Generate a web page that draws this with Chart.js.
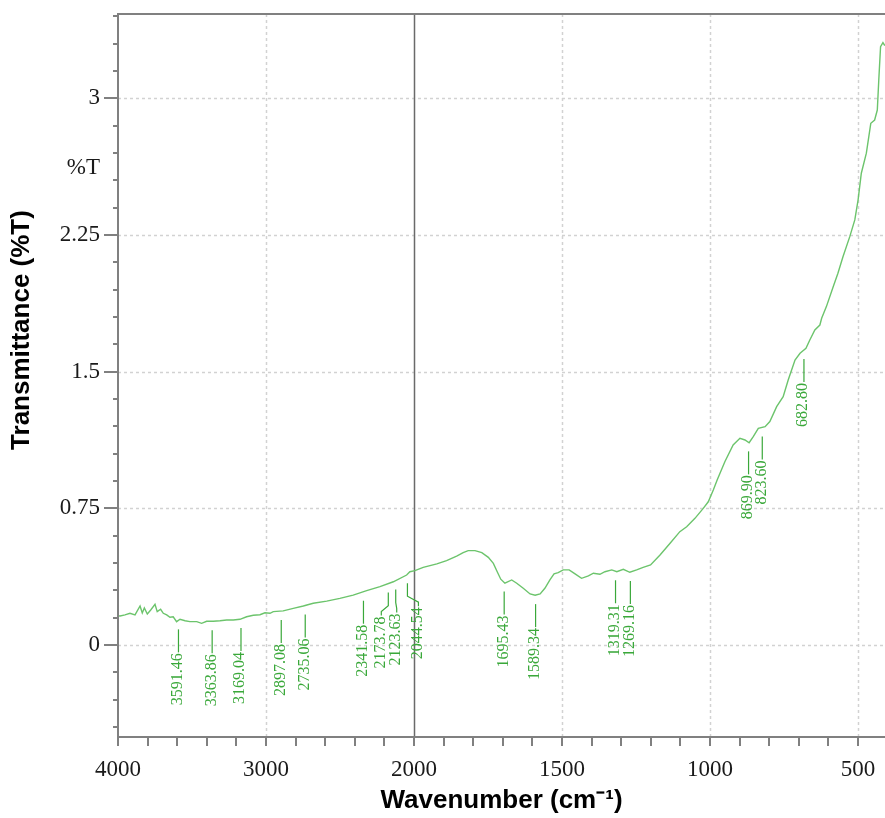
<!DOCTYPE html>
<html><head><meta charset="utf-8">
<script src="https://cdn.jsdelivr.net/npm/chart.js@4/dist/chart.umd.min.js"></script>
<style>html,body{margin:0;padding:0;background:#fff}</style>
</head><body>
<canvas id="c" width="885" height="818"></canvas>
<script>
// ---- data ----
const wavenumbers = [4000,3986,3953,3919,3885,3851,3836,3822,3802,3779,
3750,3735,3712,3694,3671,3649,3627,3604,3581,3547,
3514,3468,3435,3401,3356,3311,3266,3221,3176,3131,
3086,3041,3007,2973,2951,2884,2816,2748,2681,2590,
2501,2411,2320,2230,2140,2050,2028,1997,1969,1923,
1890,1856,1834,1817,1794,1771,1749,1732,1719,1707,
1693,1670,1653,1631,1608,1591,1574,1558,1541,1527,
1513,1496,1476,1456,1434,1411,1394,1372,1355,1332,
1315,1293,1271,1248,1226,1201,1169,1135,1102,1079,
1051,1023,1006,989,976,950,922,899,882,868,
854,837,814,798,775,753,736,713,696,676,
663,646,629,623,607,584,568,551,528,511,
500,489,472,457,444,435,430,424,416,411,409];
const transmittance = [0.160,0.159,0.165,0.174,0.165,0.214,0.176,0.203,0.170,0.192,
0.223,0.183,0.196,0.174,0.165,0.152,0.155,0.128,0.141,0.133,
0.128,0.128,0.119,0.130,0.130,0.133,0.137,0.137,0.141,0.155,
0.163,0.166,0.177,0.174,0.183,0.187,0.201,0.214,0.229,0.241,
0.256,0.274,0.298,0.320,0.347,0.384,0.402,0.408,0.426,0.445,
0.463,0.488,0.507,0.518,0.518,0.507,0.481,0.448,0.402,0.361,
0.339,0.357,0.339,0.311,0.280,0.273,0.280,0.311,0.357,0.390,
0.397,0.412,0.412,0.390,0.366,0.379,0.394,0.388,0.402,0.412,
0.402,0.415,0.399,0.412,0.426,0.439,0.494,0.558,0.622,0.649,
0.695,0.750,0.786,0.851,0.906,1.006,1.098,1.134,1.125,1.110,
1.143,1.189,1.198,1.226,1.308,1.363,1.454,1.564,1.601,1.628,
1.674,1.729,1.756,1.793,1.857,1.966,2.040,2.131,2.241,2.333,
2.442,2.589,2.699,2.863,2.881,2.936,3.101,3.284,3.306,3.293,3.29];
const peakWavenumbers = [3591.46,3363.86,3169.04,2897.08,2735.06,2341.58,2173.78,2123.63,2044.54,1695.43,1589.34,1319.31,1269.16,869.90,823.60,682.80];
const peakLabels = ['3591.46','3363.86','3169.04','2897.08','2735.06','2341.58','2173.78','2123.63','2044.54','1695.43','1589.34','1319.31','1269.16','869.90','823.60','682.80'];
const xTickLabels = [4000,3000,2000,1500,1000,500];
const yTickLabels = [0,0.75,1.5,2.25,3];
const xStart = 4000, xBreak = 2000, xEnd = 409;
const yMin = -0.505, yMax = 3.463, yMinorStep = 0.15, xMinorStepU = 200;

// layout-only: horizontal offset of a few crowded peak labels
const peakLabelShift = [0,0,0,0,0,0,-7,1,11,0,0,0,0,0,0,0];

// the spectrum x-axis doubles its scale below 2000 cm-1
function toU(w){ return w >= xBreak ? (xStart - w) : (xStart - xBreak) + 2*(xBreak - w); }
function fromU(u){ return u <= (xStart - xBreak) ? xStart - u : xBreak - (u - (xStart - xBreak))/2; }

const LINE = '#6cc46c', LABEL = '#3aa83a', AXIS = '#808080', GRID = '#d2d2d2';

function curveValueAt(wn){
  for (let i=0;i<wavenumbers.length-1;i++){
    const a=wavenumbers[i], b=wavenumbers[i+1];
    if (wn<=a && wn>=b){ const t=(a-wn)/(a-b); return transmittance[i]+t*(transmittance[i+1]-transmittance[i]); }
  }
  return transmittance[transmittance.length-1];
}

const decor = {
  id:'decor',
  beforeDatasetsDraw(chart){
    const {ctx, chartArea:ca, scales:{x,y}} = chart;
    ctx.save();
    ctx.lineWidth = 1.5; ctx.strokeStyle = GRID; ctx.setLineDash([3,3]);
    xTickLabels.forEach(w=>{
      if (w===xStart || w===xBreak) return;
      const px = Math.round(x.getPixelForValue(toU(w)))+0.5;
      ctx.beginPath(); ctx.moveTo(px, ca.top); ctx.lineTo(px, ca.bottom); ctx.stroke();
    });
    yTickLabels.forEach(v=>{
      const py = Math.round(y.getPixelForValue(v))+0.5;
      ctx.beginPath(); ctx.moveTo(ca.left, py); ctx.lineTo(ca.right, py); ctx.stroke();
    });
    ctx.setLineDash([]);
    // scale-break line at 2000
    const bx = Math.round(x.getPixelForValue(toU(xBreak)))+0.5;
    ctx.strokeStyle = '#6a6a6a'; ctx.lineWidth = 1.5;
    ctx.beginPath(); ctx.moveTo(bx, ca.top); ctx.lineTo(bx, ca.bottom); ctx.stroke();
    ctx.restore();
  },
  afterDatasetsDraw(chart){
    const {ctx, chartArea:ca, scales:{x,y}} = chart;
    ctx.save();
    // axes frame
    ctx.strokeStyle = AXIS; ctx.lineWidth = 2;
    ctx.beginPath();
    ctx.moveTo(ca.right, ca.top); ctx.lineTo(ca.left, ca.top); ctx.lineTo(ca.left, ca.bottom); ctx.lineTo(ca.right, ca.bottom);
    ctx.stroke();
    // tick marks
    ctx.lineWidth = 2;
    x.ticks.forEach(t=>{
      const px = Math.round(x.getPixelForValue(t.value));
      ctx.beginPath(); ctx.moveTo(px, ca.bottom); ctx.lineTo(px, ca.bottom+9); ctx.stroke();
    });
    y.ticks.forEach(t=>{
      const py = Math.round(y.getPixelForValue(t.value));
      const major = yTickLabels.some(v=>Math.abs(v-t.value)<1e-6);
      ctx.beginPath(); ctx.moveTo(ca.left, py); ctx.lineTo(ca.left-(major?14:5), py); ctx.stroke();
    });
    // peak annotations
    ctx.strokeStyle = LABEL; ctx.fillStyle = LABEL; ctx.lineWidth = 1.2;
    ctx.font = '16px "Liberation Serif", "Times New Roman", serif';
    peakWavenumbers.forEach((wn,i)=>{
      const px = x.getPixelForValue(toU(wn));
      const cy = y.getPixelForValue(curveValueAt(wn));
      const top = cy + 9, lead = 23, sh = peakLabelShift[i];
      ctx.beginPath(); ctx.moveTo(px, top);
      if (sh){ ctx.lineTo(px, top+13); ctx.lineTo(px+sh, top+19); ctx.lineTo(px+sh, top+lead); }
      else ctx.lineTo(px, top+lead);
      ctx.stroke();
      ctx.save(); ctx.translate(px+sh+3.5, top+lead+1); ctx.rotate(-Math.PI/2);
      ctx.textAlign='right'; ctx.textBaseline='alphabetic';
      ctx.fillText(peakLabels[i], 0, 0); ctx.restore();
    });
    // unit label on the y axis
    ctx.fillStyle = '#1a1a1a'; ctx.font = '23px "Liberation Serif", "Times New Roman", serif';
    ctx.textAlign = 'right'; ctx.textBaseline = 'middle';
    ctx.fillText('%T', ca.left-18, y.getPixelForValue(2.62));
    // y title
    ctx.save(); ctx.translate(22, 330); ctx.rotate(-Math.PI/2);
    ctx.fillStyle = '#000'; ctx.font = 'bold 26px "Liberation Sans", Arial, sans-serif';
    ctx.textAlign = 'center'; ctx.textBaseline = 'middle';
    ctx.fillText('Transmittance (%T)', 0, 0); ctx.restore();
    ctx.restore();
  }
};

new Chart(document.getElementById('c'), {
  type:'line',
  data:{ datasets:[{
    data: wavenumbers.map((w,i)=>({x:toU(w), y:transmittance[i]})),
    borderColor: LINE, borderWidth: 1.4, pointRadius: 0, fill:false, tension:0
  }]},
  options:{
    responsive:false, animation:false,
    layout:{padding:{top:14,left:0,right:0,bottom:0}},
    plugins:{legend:{display:false}, tooltip:{enabled:false}},
    scales:{
      x:{ type:'linear', min:0, max:toU(xEnd),
        afterBuildTicks: s=>{ const t=[]; for(let u=0;u<=toU(500);u+=xMinorStepU) t.push({value:u}); s.ticks=t; },
        afterFit: s=>{ s.height = 81; },
        grid:{display:true, drawOnChartArea:false, drawTicks:true, tickLength:19, tickColor:'rgba(0,0,0,0)'},
        border:{display:false},
        ticks:{ autoSkip:false, maxRotation:0, minRotation:0, padding:0, color:'#1a1a1a',
          font:{family:'"Liberation Serif", "Times New Roman", serif', size:23},
          callback:(v)=>{ const w=Math.round(fromU(v)); return xTickLabels.includes(w) ? String(w) : ''; } },
        title:{ display:true, text:'Wavenumber (cm⁻¹)', color:'#000',
          font:{family:'"Liberation Sans", Arial, sans-serif', size:26, weight:'bold'}, padding:{top:0,bottom:2} }
      },
      y:{ type:'linear', min:yMin, max:yMax,
        afterBuildTicks: s=>{ const t=[]; for(let k=-3;k<=23;k++) t.push({value:Math.round(k*yMinorStep*100)/100}); s.ticks=t; },
        afterFit: s=>{ s.width = 118; },
        grid:{display:true, drawOnChartArea:false, drawTicks:true, tickLength:18, tickColor:'rgba(0,0,0,0)'},
        border:{display:false},
        ticks:{ autoSkip:false, padding:0, color:'#1a1a1a',
          font:{family:'"Liberation Serif", "Times New Roman", serif', size:23},
          callback:(v)=> yTickLabels.some(t=>Math.abs(t-v)<1e-6) ? String(Math.round(v*100)/100) : '' }
      }
    }
  },
  plugins:[decor]
});
</script>
</body></html>
